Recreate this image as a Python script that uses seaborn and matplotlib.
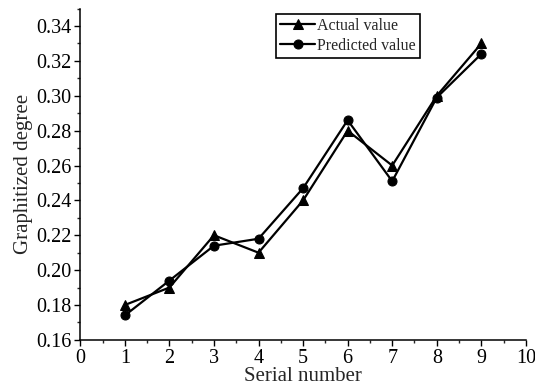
import matplotlib
matplotlib.use("Agg")
import matplotlib.pyplot as plt
import seaborn as sns
import pandas as pd
from matplotlib.ticker import MultipleLocator

serial = [1, 2, 3, 4, 5, 6, 7, 8, 9]
actual = [0.180, 0.190, 0.220, 0.210, 0.240, 0.280, 0.260, 0.300, 0.330]
predicted = [0.174, 0.194, 0.214, 0.218, 0.247, 0.286, 0.251, 0.299, 0.324]
yticks = [0.16, 0.18, 0.20, 0.22, 0.24, 0.26, 0.28, 0.30, 0.32, 0.34]

sns.set_style("ticks")
plt.rcParams['font.family'] = ['Liberation Serif', 'DejaVu Serif']

fig = plt.figure(figsize=(5.35, 3.92), dpi=100)
ax = fig.add_axes([0.150, 0.133, 0.833, 0.845])

df = pd.DataFrame({"x": serial * 2,
                   "y": actual + predicted,
                   "s": ["Actual value"] * 9 + ["Predicted value"] * 9})

sns.lineplot(data=df[df.s == "Actual value"], x="x", y="y", ax=ax, color="black",
             marker="^", markersize=7, linewidth=1.6, label="Actual value", markeredgecolor="black")
sns.lineplot(data=df[df.s == "Predicted value"], x="x", y="y", ax=ax, color="black",
             marker="o", markersize=6.5, linewidth=1.6, label="Predicted value", markeredgecolor="black")

ax.set_xlim(0, 10)
ax.set_ylim(0.16, 0.35)
ax.set_xticks(range(0, 11))
ax.set_yticks(yticks)
ax.set_yticklabels([f"{v:.2f}" for v in yticks])
ax.xaxis.set_minor_locator(MultipleLocator(0.5))
ax.yaxis.set_minor_locator(MultipleLocator(0.01))
ax.tick_params(axis="both", which="major", direction="out", length=4, width=1, labelsize=14.5, colors="black", pad=2.5)
ax.tick_params(axis="both", which="minor", direction="out", length=2.5, width=1)
for sp in ["left", "bottom"]:
    ax.spines[sp].set_linewidth(1.1)
    ax.spines[sp].set_color("black")
sns.despine(ax=ax)

ax.set_xlabel("Serial number", fontsize=15, labelpad=-1)
ax.set_ylabel("Graphitized degree", fontsize=15, labelpad=2)

leg = ax.legend(loc="upper left", bbox_to_anchor=(0.44, 0.985), fontsize=11.5,
                frameon=True, fancybox=False, edgecolor="black", framealpha=1,
                handlelength=2.2, handletextpad=0.1, borderpad=0.25, labelspacing=0.25,
                borderaxespad=0)
leg.get_frame().set_linewidth(1.2)

fig.savefig("out.png", dpi=100)
